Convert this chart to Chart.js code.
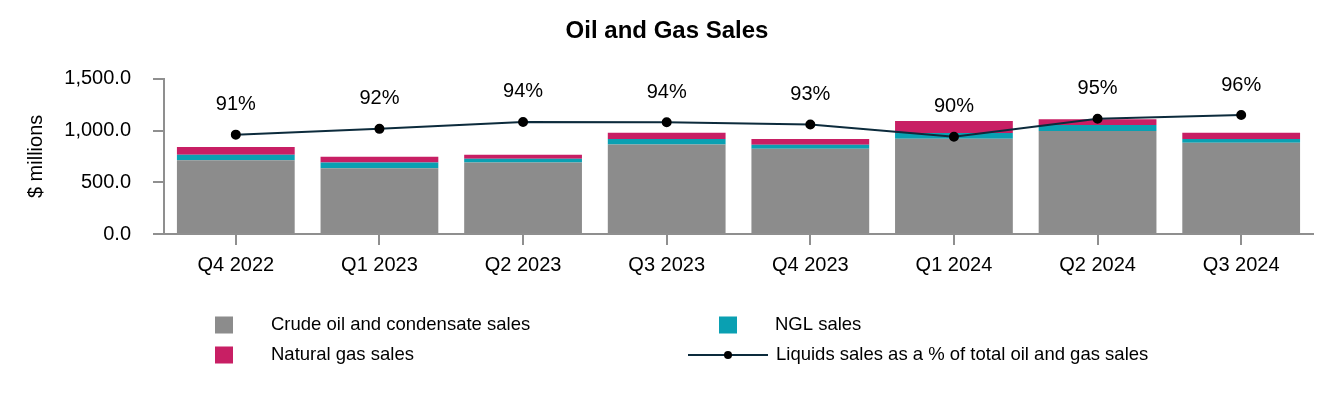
<!DOCTYPE html>
<html>
<head>
<meta charset="utf-8">
<script src="https://cdn.jsdelivr.net/npm/chart.js@4/dist/chart.umd.min.js"></script>
<style>
  body { margin: 0; background: #fff; }
  #wrap { width: 1334px; height: 400px; }
</style>
</head>
<body>
<div id="wrap"><canvas id="myChart" width="1334" height="400"></canvas></div>
<script>
// data
var quarters = ['Q4 2022', 'Q1 2023', 'Q2 2023', 'Q3 2023', 'Q4 2023', 'Q1 2024', 'Q2 2024', 'Q3 2024'];
var crudeSales = [712, 636, 690, 865, 824, 920, 996, 881];
var nglSales = [54, 54, 38, 54, 38, 57, 57, 38];
var gasSales = [76, 57, 38, 60, 57, 115, 57, 60];
var liquidsPct = [90.6, 92.2, 94.1, 94.0, 93.4, 90.0, 95.0, 96.0];
var yTicks = [0, 500, 1000, 1500];

var FONT = '"Liberation Sans", Arial, sans-serif';
var GRAY = '#8c8c8c';
var TEAL = '#0aa0b2';
var MAGENTA = '#c81f64';
var NAVY = '#0c2b3c';
var AXIS = '#8f8f8f';

//draws the % labels above the line points
var pctLabelPlugin = {
    id: 'pctLabels',
    afterDatasetsDraw: function(chart) {
        let ctx = chart.ctx;
        let meta = chart.getDatasetMeta(3);
        ctx.save();
        ctx.font = '20px ' + FONT;
        ctx.fillStyle = '#000';
        ctx.textAlign = 'center';
        ctx.textBaseline = 'middle';
        meta.data.forEach(function(pt, i) {
            ctx.fillText(Math.round(liquidsPct[i]) + '%', pt.x, pt.y - 30);
        });
        ctx.restore();
    }
};

//legend laid out in two columns like the original
var legendPlugin = {
    id: 'gridLegend',
    afterDraw: function(chart) {
        let ctx = chart.ctx;
        let items = [
            { text: 'Crude oil and condensate sales', color: GRAY, x: 215, y: 325 },
            { text: 'NGL sales', color: TEAL, x: 719, y: 325 },
            { text: 'Natural gas sales', color: MAGENTA, x: 215, y: 355 },
            { text: 'Liquids sales as a % of total oil and gas sales', line: true, x: 688, y: 355 }
        ];
        ctx.save();
        ctx.font = '18.5px ' + FONT;
        ctx.textBaseline = 'middle';
        ctx.fillStyle = '#000';
        items.forEach(function(it) {
            if (it.line) {
                ctx.strokeStyle = NAVY;
                ctx.lineWidth = 2;
                ctx.beginPath();
                ctx.moveTo(it.x, it.y);
                ctx.lineTo(it.x + 80, it.y);
                ctx.stroke();
                ctx.fillStyle = '#000';
                ctx.beginPath();
                ctx.arc(it.x + 40, it.y, 4, 0, Math.PI * 2);
                ctx.fill();
                ctx.fillText(it.text, it.x + 88, it.y);
            } else {
                ctx.fillStyle = it.color;
                ctx.fillRect(it.x, it.y - 8.5, 18, 17);
                ctx.fillStyle = '#000';
                ctx.fillText(it.text, it.x + 56, it.y);
            }
        });
        ctx.restore();
    }
};

var ctx = document.getElementById('myChart').getContext('2d');
var myChart = new Chart(ctx, {
    type: 'bar',
    data: {
        labels: quarters,
        datasets: [{
            label: 'Crude oil and condensate sales',
            data: crudeSales,
            backgroundColor: GRAY,
            order: 1
        }, {
            label: 'NGL sales',
            data: nglSales,
            backgroundColor: TEAL,
            order: 1
        }, {
            label: 'Natural gas sales',
            data: gasSales,
            backgroundColor: MAGENTA,
            order: 1
        }, {
            type: 'line',
            label: 'Liquids sales as a % of total oil and gas sales',
            data: liquidsPct,
            yAxisID: 'y1',
            borderColor: NAVY,
            borderWidth: 2,
            pointBackgroundColor: '#000',
            pointBorderColor: '#000',
            pointRadius: 4,
            tension: 0,
            order: 0
        }]
    },
    options: {
        responsive: false,
        animation: false,
        devicePixelRatio: 1,
        datasets: {
            bar: { categoryPercentage: 1, barPercentage: 0.82 }
        },
        layout: { padding: { left: 0, right: 0, top: 0, bottom: 120 } },
        plugins: {
            legend: { display: false },
            tooltip: { enabled: false },
            title: {
                display: true,
                text: 'Oil and Gas Sales',
                color: '#000',
                font: { family: FONT, size: 24, weight: 'bold' },
                padding: { top: 17, bottom: 33 }
            }
        },
        scales: {
            x: {
                stacked: true,
                grid: { drawOnChartArea: false, offset: false, tickLength: 11, color: AXIS, lineWidth: 2 },
                border: { color: AXIS, width: 2 },
                ticks: { color: '#000', font: { family: FONT, size: 20 }, padding: 8, maxRotation: 0 },
                afterFit: function(scale) { scale.height = 46; }
            },
            y: {
                stacked: true,
                min: 0,
                max: 1500,
                afterBuildTicks: function(scale) {
                    scale.ticks = yTicks.map(function(v) { return { value: v }; });
                },
                grid: { drawOnChartArea: false, tickLength: 11, color: AXIS, lineWidth: 2 },
                border: { color: AXIS, width: 2 },
                ticks: {
                    color: '#000',
                    font: { family: FONT, size: 20 },
                    padding: 22,
                    callback: function(v) {
                        return Number(v).toLocaleString('en-US', { minimumFractionDigits: 1, maximumFractionDigits: 1 });
                    }
                },
                title: {
                    display: true,
                    text: '$ millions',
                    color: '#000',
                    font: { family: FONT, size: 20 },
                    padding: { top: 24, bottom: 0 }
                },
                afterFit: function(scale) { scale.width = 164; }
            },
            // hidden scale for the % line, also keeps the right margin
            y1: {
                position: 'right',
                min: 63.2,
                max: 106,
                grid: { display: false },
                border: { display: false },
                ticks: { display: false },
                afterFit: function(scale) { scale.width = 21; }
            }
        }
    },
    plugins: [pctLabelPlugin, legendPlugin]
});
</script>
</body>
</html>
